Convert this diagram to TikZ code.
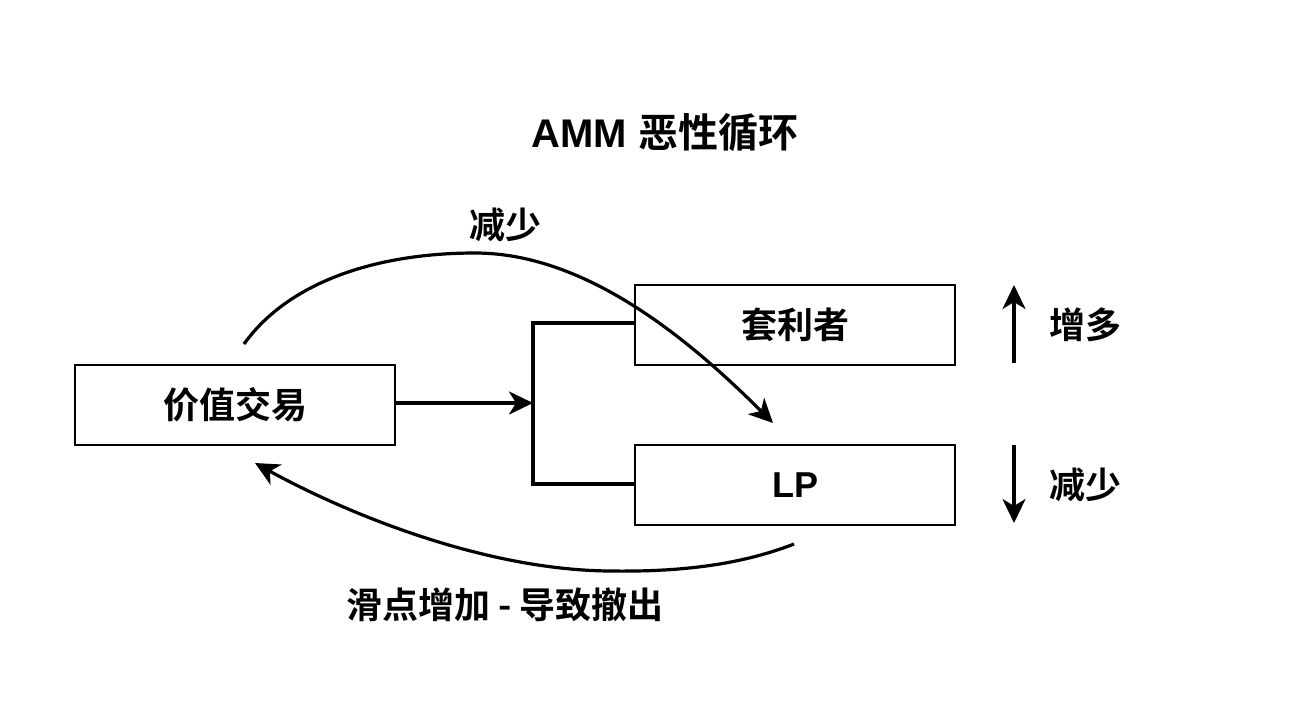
\documentclass[tikz,border=0pt]{standalone}
\usepackage{fontspec}
\setmainfont{Liberation Sans}
\newfontfamily\cjk{Noto Sans CJK SC}[BoldFont={Noto Sans CJK SC Bold}]
\usetikzlibrary{arrows.meta}
\begin{document}
\begin{tikzpicture}[x=1pt,y=-1pt,
  box/.style={draw, line width=2pt, minimum width=320pt, minimum height=80pt, inner sep=0pt, font=\fontsize{36}{40}\selectfont\bfseries\cjk},
  lbl/.style={font=\fontsize{36}{40}\selectfont\bfseries\cjk, inner sep=0pt},
  conn/.style={line width=3.2pt},
  tip/.style={-{Stealth[length=24pt,width=23pt,inset=7pt]}},
]
\useasboundingbox (0,0) rectangle (1298,724);
\fill[white] (0,0) rectangle (1298,724);
\node[font=\fontsize{40}{44}\selectfont\bfseries, inner sep=0pt] (title) at (665,133) {AMM {\cjk 恶性循环}};
\node[box] (trade) at (235,405) {价值交易};
\node[box] (arb) at (795,325) {套利者};
\node[box, font=\fontsize{36}{40}\selectfont\bfseries] (lp) at (795,485) {LP};
\coordinate (j) at (533,403);
\coordinate (jt) at (533,323);
\coordinate (jb) at (533,484);
\draw[conn, tip] (trade.east |- j) -- (j);
\draw[conn, line cap=rect] (arb.west |- jt) -- (jt) -- (jb) -- (lp.west |- jb);
% top curve
\coordinate (c1s) at (244,344);
\coordinate (c1m) at (475,253);
\coordinate (c1e) at (773,423);
\draw[conn, tip] (c1s) .. controls (290,280) and (380,253) .. (c1m) .. controls (580,253) and (680,330) .. (c1e);
\node[lbl] (lbltop) at (505,225) {减少};
% bottom curve
\coordinate (c2s) at (794,544);
\coordinate (c2m) at (610,571);
\coordinate (c2e) at (255,463);
\draw[conn, tip] (c2s) .. controls (740,565) and (680,572) .. (c2m) .. controls (480,570) and (340,510) .. (c2e);
\node[lbl] (lblbot) at (505,605) {滑点增加 - 导致撤出};
% right arrows
\coordinate (u1) at (1014,363);
\coordinate (u2) at (1014,285);
\coordinate (d1) at (1014,445);
\coordinate (d2) at (1014,523);
\draw[conn, tip] (u1) -- (u2);
\draw[conn, tip] (d1) -- (d2);
\node[lbl] (up) at (1085,325) {增多};
\node[lbl] (down) at (1085,485) {减少};
\end{tikzpicture}
\end{document}
